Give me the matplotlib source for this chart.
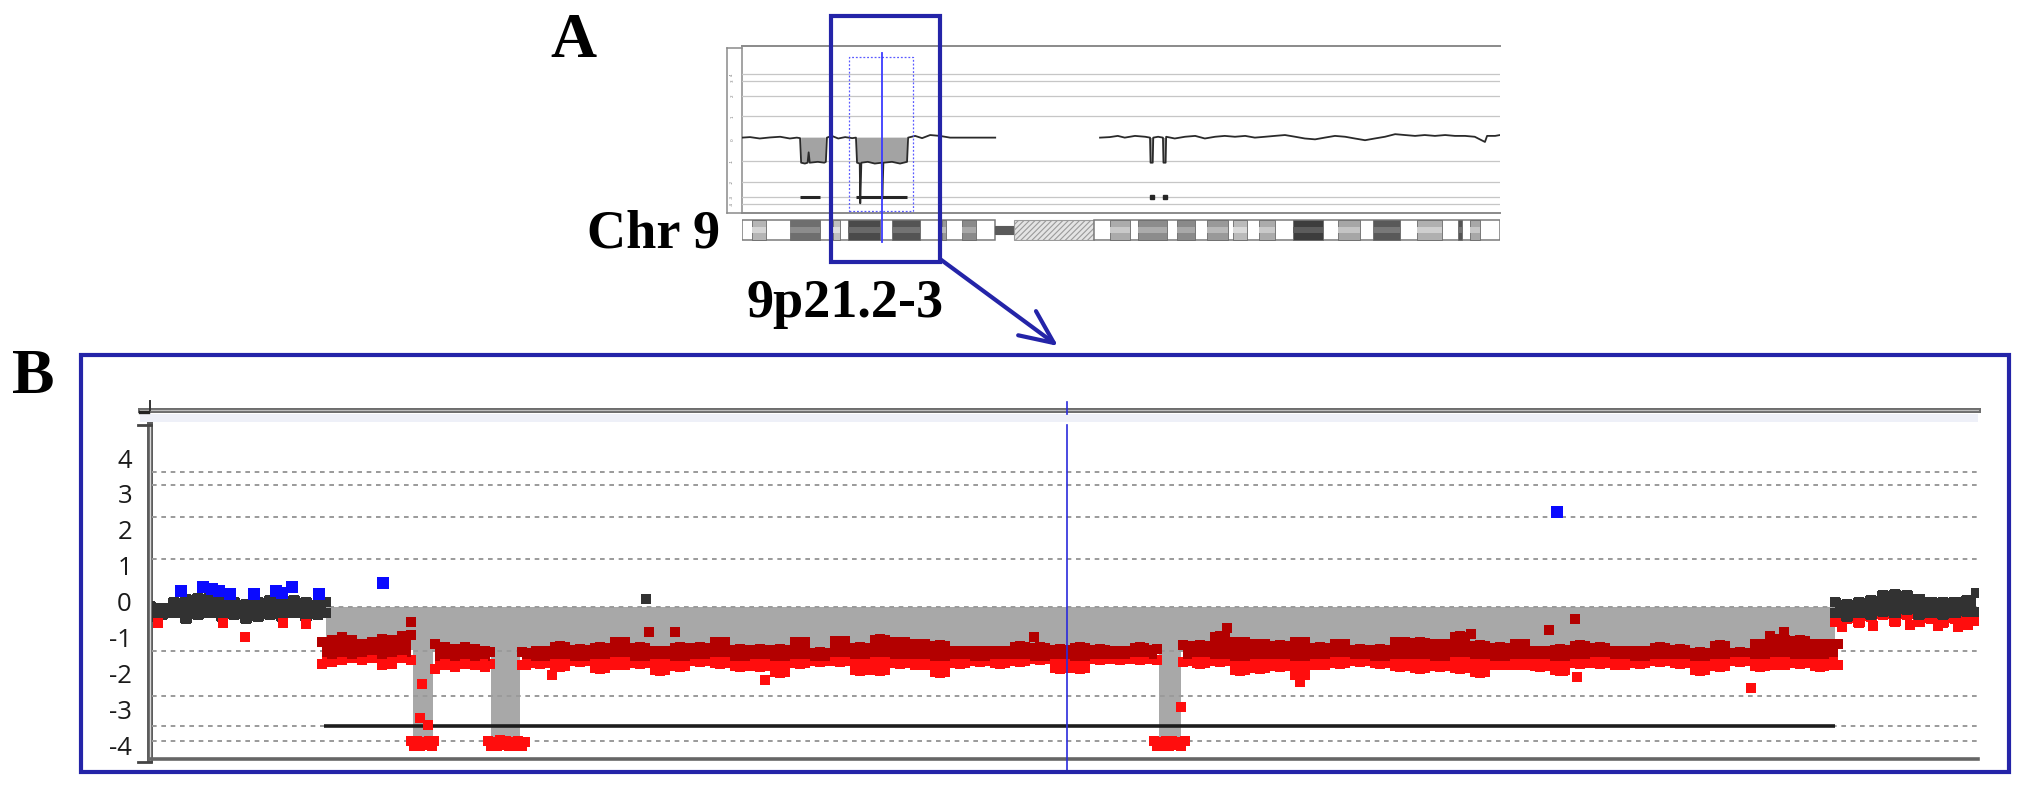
import numpy as np
import matplotlib
matplotlib.use("Agg")
import matplotlib.pyplot as plt
from matplotlib.patches import Rectangle, FancyArrowPatch
from matplotlib.lines import Line2D

nan = float("nan")

# ======================= DATA =======================
# ---- Panel A: whole chromosome 9 profile (position in Mb, log ratio) ----
a_profile = [
    (0.0, -0.05), (1.5, -0.02), (3.3, -0.10), (5.2, -0.04), (7.1, 0.00), (8.9, -0.10), (10.2, -0.05), (10.8, -0.08),
    (11.0, -1.50), (11.7, -1.55), (12.2, -1.50), (12.4, -0.90), (12.6, -1.50), (14.1, -1.45), (15.3, -1.50), (15.6, -1.45),
    (15.8, -0.05), (16.7, 0.05), (17.9, -0.10), (19.2, -0.02), (20.5, -0.08), (21.2, -0.05),
    (21.4, -1.50), (21.9, -1.55), (22.0, -3.85), (22.2, -1.50), (23.4, -1.45), (24.7, -1.55), (26.0, -1.50),
    (26.1, -3.60), (26.3, -1.50), (27.9, -1.45), (29.4, -1.55), (30.7, -1.45),
    (30.9, -0.05), (32.2, 0.05), (33.5, -0.08), (35.0, 0.10), (36.8, 0.05), (38.7, -0.05), (40.5, -0.05),
    (43.3, -0.05), (47.1, -0.05),
    (56.0, nan),
    (66.6, -0.05), (68.4, -0.02), (69.9, 0.05), (71.2, -0.05), (73.1, 0.05), (75.0, 0.00), (75.9, -0.05),
    (76.0, -1.50), (76.4, -1.50), (76.5, -0.05), (77.4, 0.00), (78.3, -0.05), (78.4, -1.50), (78.8, -1.50), (78.9, 0.00),
    (80.5, -0.10), (82.4, 0.00), (84.3, 0.05), (86.1, -0.10), (88.0, 0.00), (89.8, 0.05), (91.7, 0.00), (93.6, 0.05),
    (95.4, -0.05), (97.3, 0.00), (99.1, 0.05), (101.0, 0.10), (102.9, 0.00), (104.7, -0.10), (106.6, -0.15), (108.4, -0.05),
    (110.3, 0.05), (112.2, 0.00), (114.0, -0.10), (115.9, -0.20), (117.7, -0.10), (119.6, 0.00), (121.5, 0.15), (123.3, 0.10),
    (125.2, 0.05), (127.0, 0.10), (128.9, 0.05), (130.8, 0.10), (132.6, 0.05), (134.5, 0.05), (136.3, 0.00), (138.2, -0.30),
    (138.6, 0.05), (140.1, 0.05), (141.0, 0.10)]
a_calls = [(10.8, 14.5), (21.2, 30.6)]
a_call_dots = [76.2, 78.6]
call_level = -3.47
grid_levels = [3.61, 3.25, 2.36, 1.18, -0.15, -1.38, -2.63, -3.47, -3.89]
a_box_labels = ["4", "3", "2", "1", "0", "-1", "-2", "-3", "-4"]
a_view_mb = (19.9, 31.8)      # dotted zoom window
a_cursor_mb = 26.0

# ---- Chromosome 9 ideogram (Mb) ----
chr_len = 141.0
p_arm_end = 47.06
cen_end = 50.59
het_end = 65.47
ideo_start = [1.86, 8.93, 16.93, 19.72, 27.9, 37.2, 40.92, 68.45, 73.66, 80.91, 86.49, 91.33, 96.16,
              102.49, 110.86, 117.37, 125.55, 133.18, 135.41]
ideo_end = [4.46, 14.51, 18.23, 25.67, 33.11, 37.94, 43.52, 72.17, 79.05, 84.26, 90.4, 93.93, 99.14,
            108.07, 114.95, 122.39, 130.2, 133.92, 137.27]
ideo_shade = [0.71, 0.43, 0.75, 0.29, 0.33, 0.60, 0.54, 0.67, 0.55, 0.54, 0.60, 0.73, 0.67,
              0.24, 0.65, 0.35, 0.69, 0.33, 0.66]

# ---- Panel B: 9p21.2-3 zoom (position in Mb, log ratio) ----
b_yticks = [4, 3, 2, 1, 0, -1, -2, -3, -4]
b_cursor_mb = 23.335

# normal copy-number flanks (point-cloud envelopes)
left_x = [18.75, 18.81, 18.87, 18.93, 18.99, 19.05, 19.11, 19.17, 19.23, 19.29, 19.35, 19.41, 19.47, 19.53, 19.59, 19.63]
left_top = [0.00, -0.05, 0.10, 0.18, 0.22, 0.25, 0.20, 0.10, 0.05, 0.10, 0.15, 0.20, 0.15, 0.10, 0.05, 0.10]
left_bot = [-0.55, -0.50, -0.45, -0.60, -0.50, -0.45, -0.55, -0.50, -0.60, -0.55, -0.50, -0.55, -0.45, -0.55, -0.50, -0.45]

right_x = [27.175, 27.235, 27.295, 27.355, 27.415, 27.475, 27.535, 27.595, 27.655, 27.715, 27.775, 27.835, 27.88]
right_top = [0.10, 0.05, 0.10, 0.15, 0.30, 0.32, 0.30, 0.20, 0.12, 0.10, 0.12, 0.15, 0.35]
right_bot = [-0.45, -0.55, -0.45, -0.50, -0.40, -0.45, -0.35, -0.50, -0.45, -0.50, -0.45, -0.40, -0.40]
right_red = [-0.70, -0.60, -0.72, -0.55, -0.50, -0.68, -0.50, -0.70, -0.60, -0.72, -0.60, -0.70, -0.65]

# heterozygous deletion clouds (4 runs)
del_x = [
    [19.61, 19.66, 19.71, 19.76, 19.81, 19.86, 19.91, 19.96, 20.01, 20.055],
    [20.175, 20.225, 20.275, 20.325, 20.375, 20.425, 20.45],
    [20.61, 20.70, 20.80, 20.90, 21.00, 21.10, 21.20, 21.30, 21.40, 21.50, 21.60, 21.70, 21.80, 21.90, 22.00,
     22.10, 22.20, 22.30, 22.40, 22.50, 22.60, 22.70, 22.80, 22.90, 23.00, 23.10, 23.20, 23.30, 23.40, 23.50,
     23.60, 23.70, 23.785],
    [23.915, 24.00, 24.10, 24.20, 24.30, 24.40, 24.50, 24.60, 24.70, 24.80, 24.90, 25.00, 25.10, 25.20, 25.30,
     25.40, 25.50, 25.60, 25.70, 25.80, 25.90, 26.00, 26.10, 26.20, 26.30, 26.40, 26.50, 26.60, 26.70, 26.80,
     26.90, 27.00, 27.10, 27.19]]
del_top = [
    [-1.00, -0.95, -0.88, -0.95, -1.05, -1.00, -0.92, -0.95, -0.85, -0.80],
    [-1.05, -1.15, -1.20, -1.15, -1.20, -1.25, -1.30],
    [-1.30, -1.25, -1.12, -1.20, -1.15, -1.00, -1.15, -1.25, -1.15, -1.15, -1.00, -1.20, -1.20, -1.20, -1.00,
     -1.30, -0.97, -1.15, -0.92, -1.00, -1.05, -1.10, -1.25, -1.25, -1.25, -1.12, -1.15, -1.20, -1.15, -1.20,
     -1.25, -1.15, -1.20],
    [-1.10, -1.10, -0.85, -1.00, -1.05, -1.10, -1.00, -1.15, -1.05, -1.20, -1.20, -1.00, -1.02, -1.05, -0.85,
     -1.10, -1.15, -1.05, -1.25, -1.20, -1.10, -1.15, -1.25, -1.25, -1.15, -1.20, -1.30, -1.10, -1.30, -1.05,
     -0.92, -0.95, -1.05, -1.05]]
del_mid = [
    [-1.55, -1.60, -1.55, -1.60, -1.55, -1.50, -1.60, -1.55, -1.50, -1.55],
    [-1.65, -1.60, -1.65, -1.60, -1.65, -1.60, -1.65],
    [-1.60, -1.65, -1.60, -1.65, -1.60, -1.55, -1.65, -1.60, -1.65, -1.60, -1.55, -1.65, -1.60, -1.65, -1.60,
     -1.65, -1.55, -1.60, -1.55, -1.60, -1.60, -1.65, -1.60, -1.65, -1.60, -1.60, -1.65, -1.60, -1.65, -1.60,
     -1.60, -1.55, -1.60],
    [-1.60, -1.55, -1.60, -1.65, -1.60, -1.60, -1.65, -1.60, -1.55, -1.60, -1.65, -1.60, -1.60, -1.65, -1.55,
     -1.60, -1.65, -1.60, -1.60, -1.65, -1.60, -1.55, -1.60, -1.65, -1.60, -1.60, -1.65, -1.60, -1.55, -1.60,
     -1.55, -1.60, -1.60, -1.55]]
del_bot = [
    [-1.85, -1.80, -1.75, -1.70, -1.75, -1.70, -1.90, -1.85, -1.70, -1.75],
    [-2.00, -1.90, -1.95, -1.85, -1.90, -1.95, -1.85],
    [-1.90, -1.85, -1.95, -1.80, -2.00, -1.90, -1.85, -2.05, -1.95, -1.80, -1.85, -1.95, -1.95, -2.10, -1.85,
     -1.80, -1.80, -2.05, -2.05, -1.85, -1.90, -2.10, -1.85, -1.80, -1.85, -1.80, -1.75, -2.00, -2.00, -1.75,
     -1.75, -1.75, -1.75],
    [-1.80, -1.85, -1.80, -2.05, -2.00, -1.95, -2.20, -1.90, -1.85, -1.80, -1.85, -1.95, -2.00, -1.95, -2.00,
     -2.10, -1.90, -1.90, -1.95, -2.05, -1.85, -1.85, -1.90, -1.85, -1.80, -1.85, -2.05, -1.95, -1.80, -1.95,
     -1.90, -1.85, -1.95, -1.90]]

# segmentation (step, post) and aberration call bar
seg_x = [19.63, 20.065, 20.165, 20.455, 20.60, 23.795, 23.905, 27.175]
seg_y = [-1.35, -3.85, -1.35, -3.85, -1.35, -3.85, -1.35, -1.35]
seg_base = -0.15
b_call = (19.62, 27.175)

# homozygous deletion probes
hom_x = [20.055, 20.085, 20.115, 20.145, 20.17, 20.07, 20.10, 20.13, 20.16,
         20.44, 20.47, 20.50, 20.53, 20.56, 20.59, 20.625, 20.455, 20.485, 20.515, 20.545, 20.575, 20.61,
         23.77, 23.80, 23.83, 23.86, 23.89, 23.925, 23.785, 23.815, 23.845, 23.875, 23.905]
hom_y = [-3.90, -3.88, -3.92, -3.90, -3.88, -4.02, -4.03, -4.00, -4.02,
         -3.90, -3.92, -3.85, -3.90, -3.92, -3.90, -3.92, -4.02, -4.03, -4.00, -4.02, -4.03, -4.02,
         -3.90, -3.92, -3.88, -3.90, -3.92, -3.90, -4.02, -4.03, -4.02, -4.00, -4.02]

# single probes
dred_x = [20.055, 21.245, 21.375, 23.17, 24.135, 25.355, 25.745, 25.875, 26.85, 26.92]
dred_y = [-0.57, -0.85, -0.85, -1.00, -0.75, -0.90, -0.80, -0.50, -0.95, -0.85]
red_x = [18.79, 19.115, 19.225, 19.415, 19.53, 20.11, 20.10, 20.14, 20.76, 21.825, 23.905, 24.50, 25.815,
         25.885, 26.755, 27.21, 27.365, 27.55, 27.69, 27.79, 27.84]
red_y = [-0.60, -0.60, -1.00, -0.60, -0.62, -2.30, -3.25, -3.45, -2.05, -2.20, -2.95, -2.25, -1.95,
         -2.10, -2.40, -0.70, -0.68, -0.65, -0.68, -0.72, -0.65]
blue_x = [18.905, 19.015, 19.06, 19.095, 19.15, 19.27, 19.38, 19.41, 19.46, 19.595, 19.915, 25.785]
blue_y = [0.30, 0.40, 0.35, 0.30, 0.20, 0.20, 0.30, 0.25, 0.40, 0.20, 0.52, 2.50]
black_x = [21.23]
black_y = [0.07]

# ======================= FIGURE =======================
W, H = 2031, 796
fig = plt.figure(figsize=(W / 100, H / 100), dpi=100)
fig.patch.set_facecolor("white")

BLUE = "#2424a8"
SERIF = ["Liberation Serif", "DejaVu Serif"]


def box(x0, y0, x1, y1):
    return [x0 / W, 1 - y1 / H, (x1 - x0) / W, (y1 - y0) / H]


def fpt(x, y):
    return (x / W, 1 - y / H)


def fline(xs, ys, **kw):
    fig.add_artist(Line2D([x / W for x in xs], [1 - y / H for y in ys],
                          transform=fig.transFigure, **kw))


# ---------------- Panel A ----------------
axA = fig.add_axes(box(742, 46, 1500, 213))
axA.set_zorder(3)
axA.patch.set_alpha(0)
axA.set_xlim(0, chr_len)
axA.set_ylim(-4.41, 5.25)
axA.set_xticks([])
axA.set_yticks([])
for s in ["left", "right"]:
    axA.spines[s].set_visible(False)
for s in ["top", "bottom"]:
    axA.spines[s].set_color("#8a8a8a")
    axA.spines[s].set_linewidth(1.4)
for g in grid_levels:
    if g != seg_base:
        axA.axhline(g, color="#c6c6c6", lw=0.9, zorder=1)

a_pos = np.array([p for p, v in a_profile])
a_val = np.array([v for p, v in a_profile])
axA.fill_between(a_pos, a_val, -0.05, where=np.nan_to_num(a_val) < -0.5,
                 color="#a3a3a3", lw=0, zorder=2)
axA.plot(a_pos, a_val, color="#2a2a2a", lw=1.3, zorder=3)
for s, e in a_calls:
    axA.plot([s, e], [call_level, call_level], color="#262626", lw=2.2, zorder=3,
             solid_capstyle="butt")
axA.plot(a_call_dots, [call_level] * len(a_call_dots), "s", ms=2.4, color="#262626", zorder=3)
axA.add_patch(Rectangle((a_view_mb[0], -4.3), a_view_mb[1] - a_view_mb[0], 8.91,
                        fill=False, ec="#5a5aff", lw=0.9, ls=(0, (1.5, 1.5)), zorder=4))
axA.plot([a_cursor_mb, a_cursor_mb], [4.84, -6.09], color="#3b3bff", lw=1.3,
         clip_on=False, zorder=5)

# small y-label box of panel A
axL = fig.add_axes(box(727, 48, 742, 213))
axL.set_xlim(0, 1)
axL.set_ylim(-4.41, 5.13)
axL.set_xticks([])
axL.set_yticks([])
for s in axL.spines.values():
    s.set_color("#8a8a8a")
    s.set_linewidth(1.1)
for g, lab in zip(grid_levels, a_box_labels):
    axL.text(0.35, g, lab, fontsize=3, color="#777", ha="center", va="center", rotation=90)

# ideogram
axI = fig.add_axes(box(742, 219, 1500, 241))
axI.set_xlim(0, chr_len)
axI.set_ylim(0, 1)
axI.axis("off")
axI.add_patch(Rectangle((0, 0.05), p_arm_end, 0.9, fc="white", ec="#7a7a7a", lw=1.1, zorder=1))
axI.add_patch(Rectangle((p_arm_end, 0.3), cen_end - p_arm_end, 0.4, fc="#5a5a5a", ec="#5a5a5a", lw=0.8, zorder=1))
plt.rcParams["hatch.linewidth"] = 0.8
axI.add_patch(Rectangle((cen_end, 0.05), het_end - cen_end, 0.9, fc="#e4e4e4", ec="#9a9a9a",
                        hatch="//////", lw=0.8, zorder=1))
axI.add_patch(Rectangle((het_end, 0.05), chr_len - het_end, 0.9, fc="white", ec="#7a7a7a", lw=1.1, zorder=1))
for s, e, sh in zip(ideo_start, ideo_end, ideo_shade):
    axI.add_patch(Rectangle((s, 0.05), e - s, 0.9, fc=str(sh), ec="#6a6a6a", lw=0.6, zorder=2))
    axI.add_patch(Rectangle((s, 0.38), e - s, 0.24, fc=str(min(1.0, sh + 0.12)), ec="none", zorder=3))

# panel A texts & selection box
fig.text(550 / W, 1 - 57 / H, "A", fontsize=46, fontweight="bold", family=SERIF, ha="left", va="baseline")
fig.text(587 / W, 1 - 248 / H, "Chr 9", fontsize=39, fontweight="bold", family=SERIF, ha="left", va="baseline")
fig.text(747 / W, 1 - 317 / H, "9p21.2-3", fontsize=39, fontweight="bold", family=SERIF, ha="left", va="baseline")
fig.add_artist(Rectangle(fpt(831, 262), 109 / W, 246 / H, transform=fig.transFigure,
                         fill=False, ec=BLUE, lw=3.0, zorder=10))
fig.add_artist(FancyArrowPatch(fpt(940, 259), fpt(1058, 346), transform=fig.transFigure,
                               arrowstyle="->,head_length=1.0,head_width=0.45", mutation_scale=24,
                               color=BLUE, lw=3.0, shrinkA=0, shrinkB=0, zorder=10))

# ---------------- Panel B ----------------
fig.text(12 / W, 1 - 393 / H, "B", fontsize=46, fontweight="bold", family=SERIF, ha="left", va="baseline")
fig.add_artist(Rectangle(fpt(81, 772), (2009 - 81) / W, (772 - 355) / H, transform=fig.transFigure,
                         fill=False, ec=BLUE, lw=3.0, zorder=10))
# header bar
fig.add_artist(Rectangle(fpt(140, 422), (1978 - 140) / W, 8 / H, transform=fig.transFigure,
                         fc="#eef0f8", ec="none", zorder=1))
fline([140, 1978], [410, 410], color="#6e6e6e", lw=3.6, zorder=2)
fline([140, 1978], [410, 410], color="#bdbdbd", lw=0.8, zorder=2)
fline([150, 150], [401, 410], color="#333333", lw=1.4, zorder=2)
fline([140, 148], [412, 412], color="#222222", lw=2.4, zorder=2)
# left bracket axis and bottom axis
fline([150, 150], [425, 760], color="#5c5c5c", lw=4.3, zorder=2)
fline([150, 150], [425, 760], color="#dadada", lw=1.0, zorder=2)
fline([138, 151], [425, 425], color="#444444", lw=2.0, zorder=2)
fline([138, 151], [762, 762], color="#444444", lw=2.0, zorder=2)
fline([150, 1978], [759, 759], color="#666666", lw=2.6, zorder=2)

axB = fig.add_axes(box(152, 410, 1978, 759))
axB.patch.set_alpha(0)
axB.set_zorder(4)
axB.set_xlim(18.76, 27.89)
axB.set_ylim(-4.39, 5.34)
axB.set_xticks([])
for s in axB.spines.values():
    s.set_visible(False)
axB.set_yticks(b_yticks)
axB.set_yticklabels([str(t) for t in b_yticks], fontsize=18.5, family=["Open Sans", "DejaVu Sans"],
                    color="#1a1a1a")
axB.tick_params(axis="y", length=0, pad=14.4)

axB.fill_between(seg_x, seg_y, seg_base, step="post", color="#a8a8a8", lw=0, zorder=1)
for g in grid_levels:
    axB.axhline(g, color="#9a9a9a", lw=1.4, ls=(0, (2.4, 2.4)), zorder=2)
axB.plot(b_call, [call_level, call_level], color="#1c1c1c", lw=2.6, zorder=3, solid_capstyle="butt")

SQ = 62
EDGE = 0.12   # half-marker inset so square edges meet the read envelope
DARK = "#b30000"
BRIGHT = "#ff0d0d"
GREYB = "#323232"

# normal flanks
axB.fill_between(right_x, right_red, right_bot, step="mid", color=BRIGHT, lw=0, zorder=4)
axB.scatter(right_x, np.array(right_red) + EDGE, s=SQ, marker="s", color=BRIGHT, lw=0, zorder=4)
for xs, tp, bt in [(left_x, left_top, left_bot), (right_x, right_top, right_bot)]:
    axB.fill_between(xs, bt, tp, step="mid", color=GREYB, lw=0, zorder=5)
    axB.scatter(xs, np.array(tp) - EDGE, s=SQ, marker="s", color=GREYB, lw=0, zorder=5)
    axB.scatter(xs, np.array(bt) + EDGE, s=SQ, marker="s", color=GREYB, lw=0, zorder=5)

# deletion clouds
for xs, tp, md, bt in zip(del_x, del_top, del_mid, del_bot):
    axB.fill_between(xs, md, bt, step="mid", color=BRIGHT, lw=0, zorder=4)
    axB.scatter(xs, np.array(bt) + EDGE, s=SQ, marker="s", color=BRIGHT, lw=0, zorder=4)
    axB.fill_between(xs, tp, md, step="mid", color=DARK, lw=0, zorder=5)
    axB.scatter(xs, np.array(tp) - EDGE, s=SQ, marker="s", color=DARK, lw=0, zorder=5)

axB.scatter(hom_x, hom_y, s=SQ, marker="s", color=BRIGHT, lw=0, zorder=6)
axB.scatter(red_x, red_y, s=SQ, marker="s", color=BRIGHT, lw=0, zorder=6)
axB.scatter(dred_x, dred_y, s=SQ, marker="s", color=DARK, lw=0, zorder=6)
axB.scatter(blue_x, blue_y, s=SQ + 10, marker="s", color="#0a0aff", lw=0, zorder=7)
axB.scatter(black_x, black_y, s=SQ, marker="s", color=GREYB, lw=0, zorder=7)

# cursor line
axB.plot([b_cursor_mb, b_cursor_mb], [-4.75, 4.92], color="#2b2bdb", lw=1.2, clip_on=False, zorder=8)
axB.plot([b_cursor_mb, b_cursor_mb], [5.22, 5.55], color="#2b2bdb", lw=1.2, clip_on=False, zorder=8)

fig.savefig("out.png", dpi=100, facecolor="white")
